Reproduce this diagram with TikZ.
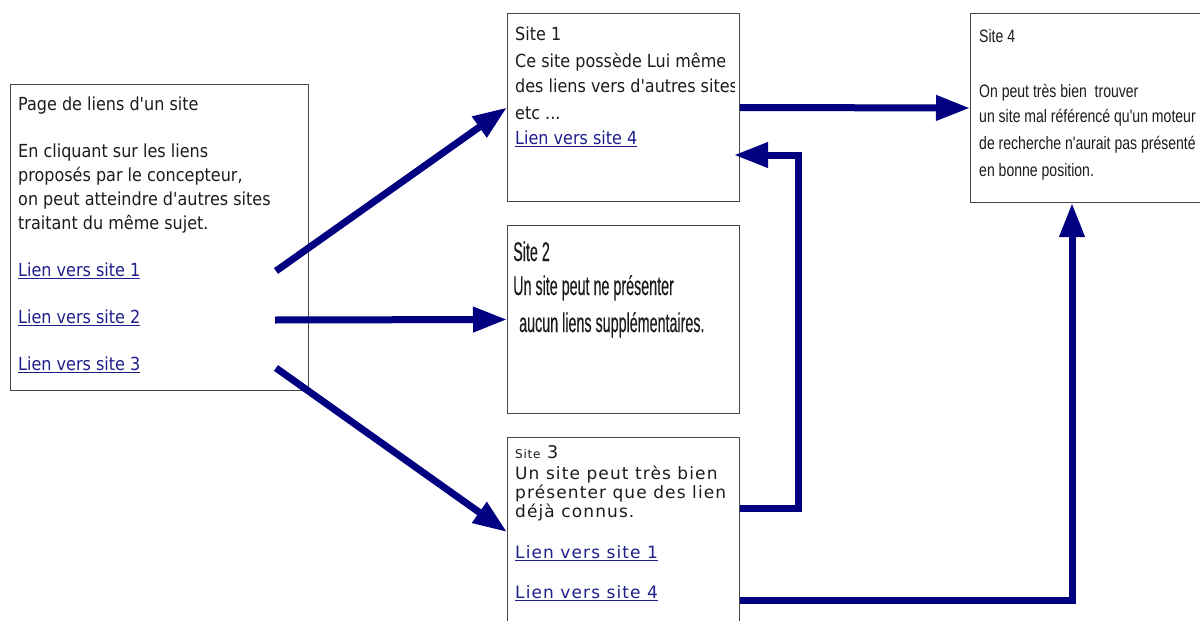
\documentclass[tikz,border=0pt]{standalone}
\usepackage{fontspec}
\usetikzlibrary{arrows.meta,calc}

\setmainfont{DejaVu Sans}
\newfontfamily\vera[FakeStretch=0.89]{DejaVu Sans}
\newfontfamily\verawide[LetterSpace=6.5]{DejaVu Sans}
\newfontfamily\narrowsans[FakeStretch=0.78]{Liberation Sans}
\newfontfamily\tightsans[FakeStretch=0.53,FakeBold=0.3]{Liberation Sans}

\definecolor{ink}{RGB}{28,28,28}
\definecolor{linkblue}{RGB}{30,30,140}
\definecolor{navyline}{RGB}{0,0,128}
\definecolor{boxgray}{RGB}{70,70,70}

% underline drawn below a link node
\newcommand{\ulnode}[1]{\draw[linkblue,line width=1.1pt] ($(#1.base west)+(0,2.6)$) -- ($(#1.base east)+(0,2.6)$);}

\tikzset{
  box/.style={draw=boxgray, line width=1pt, inner sep=0pt, anchor=north west, fill=white},
  txt/.style={anchor=base west, inner sep=0pt, text=ink},
  weblink/.style={txt, text=linkblue},
  arr/.style={draw=navyline, line width=7pt, line join=miter,
    -{Triangle[length=34pt,width=24pt]}}
}

\begin{document}
\begin{tikzpicture}[x=1pt,y=-1pt]
\useasboundingbox (0,0) rectangle (1200,621);
\clip (0,0) rectangle (1200,621);
\fill[white] (0,0) rectangle (1200,621);

% boxes
\node[box, minimum width=298pt, minimum height=306pt] (page)  at (10,84)  {};
\node[box, minimum width=232pt, minimum height=188pt] (site1) at (507,13) {};
\node[box, minimum width=232pt, minimum height=188pt] (site2) at (507,225) {};
\node[box, minimum width=232pt, minimum height=210pt] (site3) at (507,437) {};
\node[box, minimum width=260pt, minimum height=189pt] (site4) at (970,13) {};

% page of links
\begin{scope}[every node/.append style={font=\vera\fontsize{18}{22}\selectfont}]
\node[txt] (pt0) at (18,110) {Page de liens d'un site};
\node[txt] (pt1) at (18,157) {En cliquant sur les liens};
\node[txt] (pt2) at (18,181) {proposés par le concepteur,};
\node[txt] (pt3) at (18,205) {on peut atteindre d'autres sites};
\node[txt] (pt4) at (18,229) {traitant du même sujet.};
\node[weblink] (pl1) at (18,276) {Lien vers site 1};
\node[weblink] (pl2) at (18,323) {Lien vers site 2};
\node[weblink] (pl3) at (18,370) {Lien vers site 3};
\end{scope}
\ulnode{pl1}\ulnode{pl2}\ulnode{pl3}

% site 1
\begin{scope}[every node/.append style={font=\vera\fontsize{18}{22}\selectfont}]
\clip (site1.north west) rectangle ($(site1.south east)+(-6,0)$);
\node[txt] (s1t0) at (515,40)  {Site 1};
\node[txt] (s1t1) at (515,67)  {Ce site possède Lui même};
\node[txt] (s1t2) at (515,92)  {des liens vers d'autres sites};
\node[txt] (s1t3) at (515,119) {etc ...};
\node[weblink] (s1l4) at (515,144) {Lien vers site 4};
\end{scope}
\ulnode{s1l4}

% site 2
\begin{scope}[every node/.append style={font=\tightsans\fontsize{27}{32}\selectfont}]
\node[txt] (s2t0) at (513,261) {Site 2};
\node[txt] (s2t1) at (513,295) {Un site peut ne présenter};
\node[txt] (s2t2) at (519,332) {aucun liens supplémentaires.};
\end{scope}

% site 3
\begin{scope}[every node/.append style={font=\verawide\fontsize{17}{19}\selectfont}]
\node[txt] (s3t0) at (515,458) {{\fontsize{12}{14}\selectfont Site} {\fontsize{17.5}{20}\selectfont 3}};
\node[txt] (s3t1) at (515,479) {Un site peut très bien};
\node[txt] (s3t2) at (515,498) {présenter que des lien};
\node[txt] (s3t3) at (515,517) {déjà connus.};
\node[weblink] (s3l1) at (515,558) {Lien vers site 1};
\node[weblink] (s3l4) at (515,598) {Lien vers site 4};
\end{scope}
\ulnode{s3l1}\ulnode{s3l4}

% site 4
\begin{scope}[every node/.append style={font=\narrowsans\fontsize{18}{22}\selectfont}]
\node[txt] (s4t0) at (979,42)  {Site 4};
\node[txt] (s4t1) at (979,97)  {On peut très bien\ \ trouver};
\node[txt] (s4t2) at (979,122) {un site mal référencé qu'un moteur};
\node[txt] (s4t3) at (979,149) {de recherche n'aurait pas présenté};
\node[txt] (s4t4) at (979,176) {en bonne position.};
\end{scope}

% connector ends
\coordinate (from1) at (276,271);
\coordinate (from2) at (275,320);
\coordinate (from3) at (276,368);
\coordinate (to3)   at ($(site3.north west)+(0,95)$);
\coordinate (s3out1) at ($(site3.north east)+(0,71)$);
\coordinate (s3out4) at ($(site3.north east)+(0,163)$);
\coordinate (s1in)  at ($(site1.north east)+(-6,142)$);
\coordinate (s4in)  at ($(site4.south west)+(102,0)$);

% connectors
\draw[arr] (from1) -- (site1.west);
\draw[arr] (from2) -- (site2.west);
\draw[arr] (from3) -- (to3);
\draw[arr] (site1.east) -- (site4.west);
\draw[arr] (s3out1) -- ++(58,0) |- (s1in);
\draw[arr] (s3out4) -| (s4in);
\end{tikzpicture}
\end{document}
